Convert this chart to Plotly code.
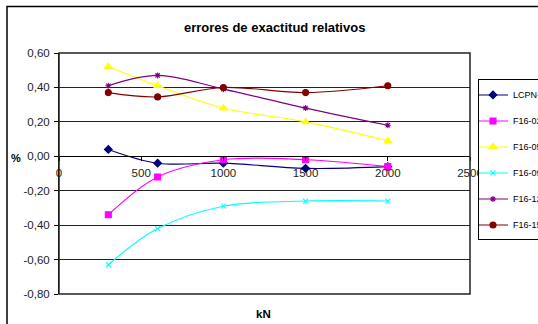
import plotly.graph_objects as go

# Load steps (kN) and relative accuracy errors (%) per instrument
carga_kn = [300, 600, 1000, 1500, 2000]
lcpn_f = [0.04, -0.04, -0.04, -0.07, -0.06]
f16_02 = [-0.34, -0.12, -0.02, -0.02, -0.06]
f16_05 = [0.52, 0.41, 0.28, 0.20, 0.09]
f16_09 = [-0.63, -0.42, -0.29, -0.26, -0.26]
f16_12 = [0.41, 0.47, 0.39, 0.28, 0.18]
f16_15 = [0.37, 0.345, 0.40, 0.37, 0.41]

y_ticks = [0.6, 0.4, 0.2, 0.0, -0.2, -0.4, -0.6, -0.8]
y_tick_labels = ["0,60", "0,40", "0,20", "0,00", "-0,20", "-0,40", "-0,60", "-0,80"]
x_ticks = [0, 500, 1000, 1500, 2000, 2500]
x_tick_labels = ["0", "500", "1000", "1500", "2000", "2500"]

FONT = "Liberation Sans, Arial, sans-serif"

series = [
    ("LCPN-F", lcpn_f, "#000080", "diamond", 6),
    ("F16-02", f16_02, "#FF00FF", "square", 6),
    ("F16-05", f16_05, "#FFFF00", "triangle-up", 7),
    ("F16-09", f16_09, "#00FFFF", "x-thin-open", 5),
    ("F16-12", f16_12, "#800080", "asterisk-open", 5),
    ("F16-15", f16_15, "#800000", "circle", 6),
]

fig = go.Figure()
for i, (name, vals, color, symbol, size) in enumerate(series):
    fig.add_trace(go.Scatter(
        x=carga_kn, y=vals, name=name, mode="lines+markers",
        legendgroup=f"g{i}",
        line=dict(color=color, width=1.1, shape="spline"),
        marker=dict(color=color, symbol=symbol, size=size,
                    line=dict(color=color, width=1.1)),
    ))

W, H = 538, 324
L, R, T, B = 59, 68, 52.5, 30
pw, ph = W - L - R, H - T - B

def px_x(px):
    return (px - L) / pw

def px_y(py):
    return (H - B - py) / ph

y0_frac = (0 - (-0.8)) / 1.4

fig.update_layout(
    width=W, height=H,
    margin=dict(l=L, r=R, t=T, b=B, autoexpand=False),
    paper_bgcolor="white", plot_bgcolor="white",
    font=dict(family=FONT, size=11, color="black"),
    showlegend=True,
    legend=dict(
        x=px_x(478), y=px_y(79), xanchor="left", yanchor="top",
        bordercolor="black", borderwidth=1, bgcolor="white",
        font=dict(family=FONT, size=9, color="black"),
        tracegroupgap=7, itemwidth=30, indentation=-6,
    ),
    xaxis=dict(
        range=[0, 2500], tickvals=x_ticks, ticktext=x_tick_labels,
        showgrid=False, zeroline=False,
        showline=True, linecolor="black", linewidth=1,
        ticks="outside", ticklen=4, tickcolor="black",
        anchor="free", position=y0_frac, ticklabelstandoff=2,
        tickfont=dict(family=FONT, size=11.5, color="#222"),
    ),
    yaxis=dict(
        range=[-0.8, 0.6], tickvals=y_ticks, ticktext=y_tick_labels,
        showgrid=True, gridcolor="#222", gridwidth=1, zeroline=False,
        showline=True, linecolor="black", linewidth=1,
        ticks="outside", ticklen=4, tickcolor="black", ticklabelstandoff=2,
        tickfont=dict(family=FONT, size=11.5, color="#222"),
    ),
    shapes=[
        # plot area frame
        dict(type="rect", xref="paper", yref="paper", x0=0, y0=0, x1=1, y1=1,
             line=dict(color="#222", width=1.5)),
        # outer chart frame
        dict(type="rect", xref="paper", yref="paper",
             x0=px_x(7), y0=px_y(340), x1=px_x(560), y1=px_y(6),
             line=dict(color="black", width=1.5)),
    ],
    annotations=[
        dict(text="<b>errores de exactitud relativos</b>", xref="paper", yref="paper",
             x=px_x(274), y=px_y(27), showarrow=False, xanchor="center", yanchor="middle",
             font=dict(family=FONT, size=13, color="black")),
        dict(text="<b>%</b>", xref="paper", yref="paper",
             x=px_x(16), y=px_y(158), showarrow=False, xanchor="center", yanchor="middle",
             font=dict(family=FONT, size=11, color="black")),
        dict(text="<b>kN</b>", xref="paper", yref="paper",
             x=px_x(263), y=px_y(314), showarrow=False, xanchor="center", yanchor="middle",
             font=dict(family=FONT, size=11.5, color="black")),
    ],
)

fig.write_html("out.html")
